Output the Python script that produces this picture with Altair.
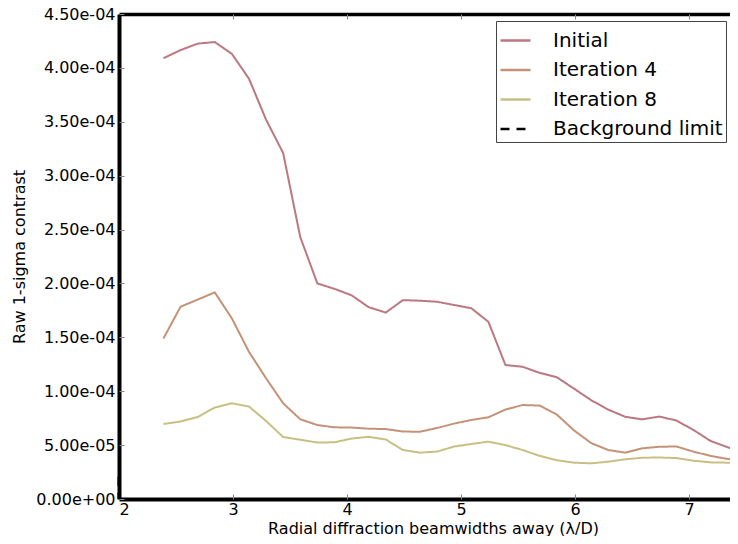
import altair as alt
import pandas as pd

# Radial separation (lambda/D)
radius = [2.39, 2.54, 2.69, 2.84, 2.99, 3.14, 3.29, 3.44, 3.59, 3.74, 3.89, 4.04,
          4.19, 4.34, 4.49, 4.64, 4.79, 4.94, 5.09, 5.24, 5.39, 5.54, 5.69, 5.84,
          5.99, 6.14, 6.29, 6.44, 6.59, 6.74, 6.89, 7.04, 7.19, 7.34, 7.49]

initial = [4.09e-4, 4.165e-4, 4.225e-4, 4.24e-4, 4.13e-4, 3.90e-4, 3.52e-4, 3.21e-4,
           2.43e-4, 2.00e-4, 1.95e-4, 1.89e-4, 1.78e-4, 1.73e-4, 1.845e-4, 1.84e-4,
           1.83e-4, 1.80e-4, 1.77e-4, 1.645e-4, 1.243e-4, 1.227e-4, 1.17e-4, 1.13e-4,
           1.025e-4, 0.918e-4, 0.83e-4, 0.763e-4, 0.739e-4, 0.765e-4, 0.728e-4,
           0.64e-4, 0.538e-4, 0.48e-4, 0.427e-4]

iteration4 = [1.49e-4, 1.784e-4, 1.85e-4, 1.917e-4, 1.676e-4, 1.366e-4, 1.12e-4, 0.888e-4,
              0.74e-4, 0.686e-4, 0.665e-4, 0.663e-4, 0.652e-4, 0.649e-4, 0.626e-4, 0.624e-4,
              0.659e-4, 0.70e-4, 0.733e-4, 0.758e-4, 0.83e-4, 0.872e-4, 0.867e-4, 0.784e-4,
              0.638e-4, 0.52e-4, 0.455e-4, 0.43e-4, 0.47e-4, 0.485e-4, 0.487e-4, 0.439e-4,
              0.40e-4, 0.371e-4, 0.36e-4]

iteration8 = [0.696e-4, 0.719e-4, 0.76e-4, 0.849e-4, 0.888e-4, 0.858e-4, 0.724e-4, 0.575e-4,
              0.55e-4, 0.524e-4, 0.526e-4, 0.561e-4, 0.577e-4, 0.552e-4, 0.455e-4, 0.43e-4,
              0.44e-4, 0.487e-4, 0.51e-4, 0.532e-4, 0.50e-4, 0.455e-4, 0.40e-4, 0.36e-4,
              0.337e-4, 0.331e-4, 0.346e-4, 0.368e-4, 0.383e-4, 0.385e-4, 0.38e-4, 0.355e-4,
              0.34e-4, 0.337e-4, 0.334e-4]

background_limit = 2.07e-5

series_names = ["Initial", "Iteration 4", "Iteration 8", "Background limit"]
series_colors = ["#bb7880", "#c49377", "#c8c083", "#000000"]
series_dashes = [[1, 0], [1, 0], [1, 0], [9, 7]]

y_ticks = [0, 5e-5, 1e-4, 1.5e-4, 2e-4, 2.5e-4, 3e-4, 3.5e-4, 4e-4, 4.5e-4]
x_ticks = [2, 3, 4, 5, 6, 7]

rows = []
for name, vals in zip(series_names[:3], [initial, iteration4, iteration8]):
    for r, v in zip(radius, vals):
        rows.append({"radius": r, "contrast": v, "series": name})
df = pd.DataFrame(rows)
bg = pd.DataFrame({"contrast": [background_limit], "series": ["Background limit"]})

FONT = "DejaVu Sans"
PLOT_W = 611
x_scale = alt.Scale(domain=[2, 2 + PLOT_W / 114], nice=False, zero=False)
y_scale = alt.Scale(domain=[0, 4.5e-4], nice=False, zero=False)
color_scale = alt.Scale(domain=series_names, range=series_colors)
dash_scale = alt.Scale(domain=series_names, range=series_dashes)

legend = alt.Legend(
    title=None, orient="none", legendX=377, legendY=7,
    labelFont=FONT, labelFontSize=20, labelColor="#000000", labelLimit=400,
    symbolType="stroke", symbolSize=900, symbolStrokeWidth=2.5,
    labelOffset=21, padding=3, rowPadding=2.5,
    strokeColor="#444444", fillColor="#ffffff", cornerRadius=0,
)

label_expr = "replace(replace(format(datum.value, '.2e'), 'e-', 'e-0'), 'e+', 'e+0')"

lines = alt.Chart(df).mark_line(strokeWidth=2, clip=True).encode(
    x=alt.X("radius:Q", scale=x_scale,
            axis=alt.Axis(orient="bottom", values=x_ticks, format="d",
                          title="Radial diffraction beamwidths away (λ/D)",
                          titleX=314, titleFont=FONT, titleFontSize=16, titleFontWeight="normal",
                          titleColor="#000000", titlePadding=3,
                          labelFont=FONT, labelFontSize=16, labelColor="#000000", labelPadding=2,
                          ticks=False, grid=False, domainColor="#000000", domainWidth=4)),
    y=alt.Y("contrast:Q", scale=y_scale,
            axis=alt.Axis(orient="left", values=y_ticks, labelExpr=label_expr,
                          title="Raw 1-sigma contrast", titleFont=FONT, titleFontSize=16,
                          titleFontWeight="normal", titleColor="#000000", titlePadding=8,
                          labelFont=FONT, labelFontSize=16, labelColor="#000000", labelPadding=4,
                          ticks=False, grid=False, domainColor="#000000", domainWidth=4)),
    color=alt.Color("series:N", scale=color_scale, legend=legend, sort=series_names),
    strokeDash=alt.StrokeDash("series:N", scale=dash_scale, legend=legend, sort=series_names),
)

bg_rule = alt.Chart(bg).mark_rule(strokeWidth=3).encode(
    y=alt.Y("contrast:Q", scale=y_scale, axis=None),
    x=alt.X(datum=2, scale=x_scale,
            axis=alt.Axis(orient="top", labels=False, ticks=False, grid=False, title=None,
                          domainColor="#000000", domainWidth=3.5)),
    color=alt.Color("series:N", scale=color_scale, legend=legend, sort=series_names),
    strokeDash=alt.StrokeDash("series:N", scale=dash_scale, legend=legend, sort=series_names),
)

tick_style = dict(labels=False, ticks=True, tickSize=5, tickColor="#888888", tickWidth=1,
                  domain=False, grid=False, title=None, offset=-5)

ticks_a = alt.Chart(bg).mark_rule(strokeOpacity=0).encode(
    y=alt.Y("contrast:Q", scale=y_scale, axis=alt.Axis(orient="left", values=y_ticks, **tick_style)),
    x=alt.X(datum=2, scale=x_scale, axis=alt.Axis(orient="bottom", values=x_ticks, **tick_style)),
)
ticks_b = alt.Chart(bg).mark_rule(strokeOpacity=0).encode(
    y=alt.Y("contrast:Q", scale=y_scale, axis=None),
    x=alt.X(datum=2, scale=x_scale, axis=alt.Axis(orient="top", values=x_ticks, **tick_style)),
)

chart = alt.layer(lines, bg_rule, ticks_a, ticks_b).resolve_axis(
    x="independent", y="independent"
).properties(
    width=PLOT_W, height=485,
    autosize=alt.AutoSizeParams(type="none"),
    padding={"left": 111, "top": 6, "right": 0, "bottom": 37},
    background="#ffffff",
).configure_view(stroke=None)

chart.save("out.html", embed_options={"renderer": "svg", "actions": False})
